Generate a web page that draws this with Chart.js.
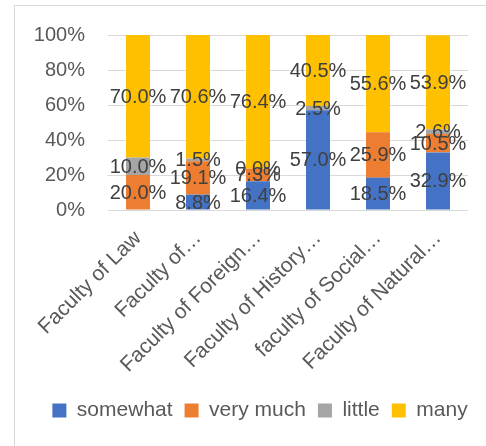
<!DOCTYPE html>
<html>
<head>
<meta charset="utf-8">
<script src="https://cdn.jsdelivr.net/npm/chart.js@4"></script>
<style>
  html, body { margin: 0; padding: 0; background: #fff; }
  #wrap { width: 486px; height: 446px; }
</style>
</head>
<body>
<div id="wrap"><canvas id="chart" width="486" height="446"></canvas></div>
<script>
// --- data ---
const categories = ['Faculty of Law', 'Faculty of…', 'Faculty of Foreign…', 'Faculty of History…', 'faculty of Social…', 'Faculty of Natural…'];
const somewhat  = [null, 8.8, 16.4, 57.0, 18.5, 32.9];
const veryMuch  = [20.0, 19.1, 7.3, null, 25.9, 10.5];
const little    = [10.0, 1.5, 0.0, 2.5, null, 2.6];
const many      = [70.0, 70.6, 76.4, 40.5, 55.6, 53.9];
const yTicks    = [0, 20, 40, 60, 80, 100];

const FONT = '"Liberation Sans", Arial, sans-serif';
const gridColor = '#d9d9d9';

// value labels in the middle of each segment
const barLabels = {
    id: 'barLabels',
    afterDatasetsDraw(chart) {
        const ctx = chart.ctx;
        ctx.save();
        ctx.font = '20px ' + FONT;
        ctx.fillStyle = '#404040';
        ctx.textAlign = 'center';
        ctx.textBaseline = 'middle';
        chart.data.datasets.forEach((ds, i) => {
            const meta = chart.getDatasetMeta(i);
            meta.data.forEach((bar, j) => {
                const v = ds.data[j];
                if (v === null || v === undefined) return;
                ctx.fillText(v.toFixed(1) + '%', bar.x, (bar.y + bar.base) / 2 + 1);
            });
        });
        ctx.restore();
    }
};

// light frame around the chart, cut off at right and bottom like the original
const frame = {
    id: 'frame',
    beforeDraw(chart) {
        const ctx = chart.ctx;
        ctx.save();
        ctx.strokeStyle = gridColor;
        ctx.lineWidth = 1;
        ctx.strokeRect(14.5, 5.5, 600, 600);
        ctx.restore();
    }
};

// legend sits a bit right of the canvas centre in the original
const shiftLegend = {
    id: 'shiftLegend',
    afterLayout(chart) {
        if (!chart.legend) return;
        chart.legend.left += 26;
        chart.legend.right += 26;
    }
};

new Chart(document.getElementById('chart'), {
    type: 'bar',
    data: {
        labels: categories,
        datasets: [
            { label: 'somewhat', data: somewhat, backgroundColor: '#4472C4' },
            { label: 'very much', data: veryMuch, backgroundColor: '#ED7D31' },
            { label: 'little', data: little, backgroundColor: '#A5A5A5' },
            { label: 'many', data: many, backgroundColor: '#FFC000' }
        ]
    },
    options: {
        responsive: false,
        animation: false,
        layout: { padding: { left: 0, right: 18, top: 34, bottom: 15 } },
        datasets: { bar: { categoryPercentage: 1, barPercentage: 0.4 } },
        scales: {
            x: {
                stacked: true,
                grid: { display: false },
                border: { display: false },
                ticks: {
                    autoSkip: false, maxRotation: 45, minRotation: 45,
                    padding: 8, color: '#595959', font: { family: FONT, size: 21 }
                },
                afterFit(scale) {
                    const lh = scale.chart.legend ? scale.chart.legend.height : 42;
                    scale.height = 446 - 210 - 15 - lh;
                }
            },
            y: {
                stacked: true,
                min: 0, max: 100,
                afterBuildTicks(scale) { scale.ticks = yTicks.map(v => ({ value: v })); },
                grid: { color: gridColor, drawTicks: false },
                border: { display: false },
                ticks: {
                    padding: 23, color: '#595959', font: { family: FONT, size: 20 },
                    callback: v => v + '%'
                },
                afterFit(scale) { scale.width = 108; }
            }
        },
        plugins: {
            legend: {
                position: 'bottom',
                labels: {
                    boxWidth: 14, boxHeight: 14, padding: 12,
                    color: '#595959', font: { family: FONT, size: 21 }
                }
            },
            tooltip: { enabled: false }
        }
    },
    plugins: [barLabels, frame, shiftLegend]
});
</script>
</body>
</html>
